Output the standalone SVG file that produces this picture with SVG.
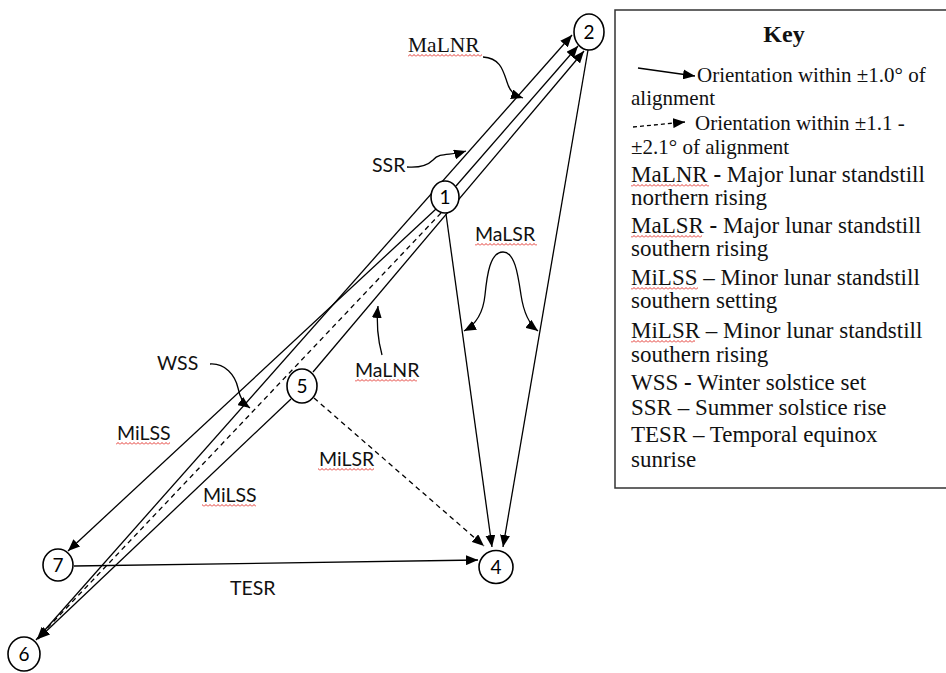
<svg xmlns="http://www.w3.org/2000/svg" width="946" height="673" viewBox="0 0 946 673">
<style>
.ln{stroke:#000;stroke-width:1.3;fill:none}
.dl{stroke:#000;stroke-width:1.3;fill:none;stroke-dasharray:5 4}
.ar{marker-end:url(#ah)}
.as{marker-start:url(#ah)}
.nd{fill:#fff;stroke:#000;stroke-width:1.6}
.nt{font-family:Lato,"Liberation Sans",sans-serif;font-size:19px;fill:#000;text-anchor:middle}
.lb{font-family:Lato,"Liberation Sans",sans-serif;font-size:19.5px;fill:#111}
.sl{font-family:"Liberation Serif",serif;font-size:21.5px;fill:#111}
.kt{font-family:"Liberation Serif",serif;font-size:23px;fill:#111}
.ks{font-family:"Liberation Serif",serif;font-size:21px;fill:#111}
.sq{fill:url(#sq)}
</style>
<defs>
<marker id="ah" viewBox="0 0 12 10" refX="12" refY="5" markerWidth="12" markerHeight="10" markerUnits="userSpaceOnUse" orient="auto-start-reverse"><path d="M0,0 L12,5 L0,10 z" fill="#000"/></marker>
<pattern id="sq" width="4" height="3" patternUnits="userSpaceOnUse"><path d="M0,2.5 L2,0.5 L4,2.5" stroke="#e0201a" stroke-width="0.9" fill="none"/></pattern>
</defs>
<rect width="946" height="673" fill="#fff"/>

<g id="connectors">
<path id="e6-2" class="ln ar" d="M36,640 L572,35"/>
<path id="e1-2" class="ln ar" d="M456,186 L578,46"/>
<path id="e5-2" class="ln ar" d="M313,372 L584,51"/>
<path id="e1-7" class="ln ar" d="M436,209 L68,551"/>
<path id="e1-6" class="dl ar" d="M441,213 L37,639"/>
<path id="e5-6" class="ln ar" d="M291,399 L38,639"/>
<path id="e1-4" class="ln ar" d="M446,214 L492,547"/>
<path id="e2-4" class="ln ar" d="M588,50 L503,547"/>
<path id="e5-4" class="dl ar" d="M314,398 L484,546"/>
<path id="e7-4" class="ln ar" d="M74,566 L478,560"/>
<path class="ln ar" d="M483,57 C500,58 503,70 507,82 C510,92 514,95 523,98"/>
<path class="ln ar" d="M407,167 C420,168 428,165 433,160 C440,152 450,156 466,151"/>
<path class="ln ar" d="M210,364 C225,363 235,375 238,388 C240,398 243,403 250,408"/>
<path class="ln ar" d="M382,355 C378,340 376,325 378,306"/>
<path class="ln ar as" d="M464,331 C475,325 483,315 485,295 C487,275 490,252 503,252 C515,252 518,275 521,295 C524,315 530,325 538,331"/>
</g>

<g id="n1"><ellipse class="nd" cx="445" cy="197" rx="14" ry="16"/><text class="nt" x="445" y="204">1</text></g>
<g id="n2"><ellipse class="nd" cx="589" cy="32" rx="15" ry="18"/><text class="nt" x="589" y="39">2</text></g>
<g id="n4"><ellipse class="nd" cx="496" cy="567" rx="17" ry="16.5"/><text class="nt" x="496" y="574">4</text></g>
<g id="n5"><ellipse class="nd" cx="302" cy="386" rx="15" ry="17"/><text class="nt" x="302" y="393">5</text></g>
<g id="n6"><ellipse class="nd" cx="24" cy="654" rx="16" ry="17"/><text class="nt" x="24" y="661">6</text></g>
<g id="n7"><ellipse class="nd" cx="58" cy="565" rx="15" ry="16"/><text class="nt" x="58" y="572">7</text></g>

<g id="labels">
<text class="sl" x="408" y="52">MaLNR</text>
<rect class="sq" x="408" y="0" width="74" height="3" transform="translate(0,54)"/>
<text class="lb" x="372" y="172">SSR</text>
<text class="lb" x="475" y="241">MaLSR</text>
<rect class="sq" x="475" y="0" width="62" height="3" transform="translate(0,243)"/>
<text class="lb" x="157" y="370">WSS</text>
<text class="lb" x="355" y="377">MaLNR</text>
<rect class="sq" x="355" y="0" width="62" height="3" transform="translate(0,379)"/>
<text class="lb" x="117" y="440">MiLSS</text>
<rect class="sq" x="116" y="0" width="54" height="3" transform="translate(0,442)"/>
<text class="lb" x="319" y="466">MiLSR</text>
<rect class="sq" x="318" y="0" width="56" height="3" transform="translate(0,468)"/>
<text class="lb" x="203" y="502">MiLSS</text>
<rect class="sq" x="202" y="0" width="54" height="3" transform="translate(0,504)"/>
<text class="lb" x="230" y="595">TESR</text>
</g>

<g id="key">
<rect x="615" y="10" width="340" height="478" fill="#fff" stroke="#333" stroke-width="1.5"/>
<text x="784" y="42" font-family="'Liberation Serif',serif" font-size="24" font-weight="bold" text-anchor="middle" fill="#111">Key</text>
<path class="ln ar" d="M638,68 L695,76"/>
<path class="dl ar" d="M633,127 L685,122" style="stroke-dasharray:4 3"/>
<text class="ks" x="697" y="82">Orientation within ±1.0° of</text>
<text class="ks" x="631" y="105">alignment</text>
<text class="ks" x="695" y="130">Orientation within ±1.1 -</text>
<text class="ks" x="631" y="154">±2.1° of alignment</text>
<text class="kt" x="631" y="182">MaLNR <tspan font-weight="bold">-</tspan> Major lunar standstill</text>
<rect class="sq" x="631" y="0" width="78" height="3" transform="translate(0,184)"/>
<text class="kt" x="631" y="205">northern rising</text>
<text class="kt" x="631" y="233">MaLSR <tspan font-weight="bold">-</tspan> Major lunar standstill</text>
<rect class="sq" x="631" y="0" width="71" height="3" transform="translate(0,235)"/>
<text class="kt" x="631" y="256">southern rising</text>
<text class="kt" x="631" y="285">MiLSS – Minor lunar standstill</text>
<rect class="sq" x="631" y="0" width="67" height="3" transform="translate(0,287)"/>
<text class="kt" x="631" y="308">southern setting</text>
<text class="kt" x="631" y="338">MiLSR – Minor lunar standstill</text>
<rect class="sq" x="631" y="0" width="64" height="3" transform="translate(0,340)"/>
<text class="kt" x="631" y="362">southern rising</text>
<text class="kt" x="631" y="390">WSS <tspan font-weight="bold">-</tspan> Winter solstice set</text>
<text class="kt" x="631" y="415">SSR – Summer solstice rise</text>
<text class="kt" x="631" y="442">TESR – Temporal equinox</text>
<text class="kt" x="631" y="467">sunrise</text>
</g>
</svg>
